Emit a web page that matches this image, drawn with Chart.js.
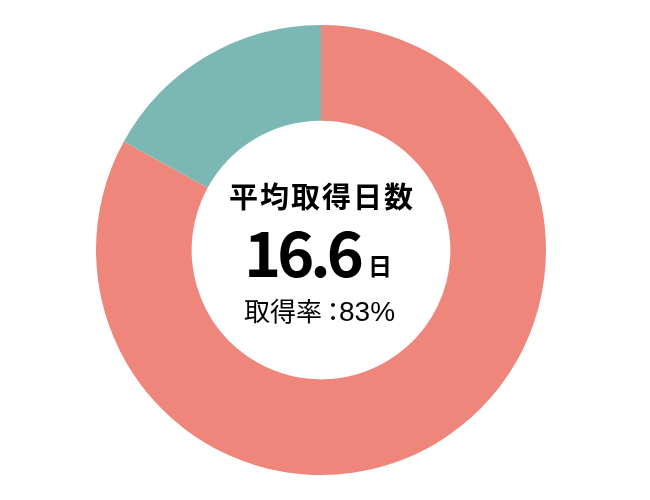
<!DOCTYPE html>
<html>
<head>
<meta charset="utf-8">
<script src="https://cdn.jsdelivr.net/npm/chart.js@4/dist/chart.umd.min.js"></script>
<style>
html,body{margin:0;padding:0;background:#fff;}
#wrap{width:650px;height:500px;}
</style>
</head>
<body>
<div id="wrap"><canvas id="c" width="650" height="500"></canvas></div>
<script>
const categories = ["取得", "未取得"];
const values = [83, 17];
const colors = ["#EE867B", "#7BB8B3"];
const titleText = "平均取得日数";
const daysValue = "16.6";
const daysUnit = "日";
const rateLabel = "取得率";
const rateSep = "：";
const rateValue = "83%";

const centerText = {
  id: 'centerText',
  afterDraw(chart) {
    const ctx = chart.ctx;
    const meta = chart.getDatasetMeta(0).data[0];
    const cx = meta.x, cy = meta.y;
    ctx.save();
    ctx.fillStyle = '#000';
    ctx.textBaseline = 'alphabetic';
    const fam = '"Noto Sans CJK JP", "Noto Sans", sans-serif';
    // title
    ctx.textAlign = 'center';
    ctx.font = 'bold 29px ' + fam;
    ctx.letterSpacing = '2px';
    ctx.fillText(titleText, cx + 1, cy - 42);
    // big number
    ctx.textAlign = 'left';
    ctx.font = 'bold 63px ' + fam;
    ctx.letterSpacing = '-4px';
    ctx.fillText(daysValue, cx - 77, cy + 27);
    ctx.letterSpacing = '0px';
    ctx.font = 'bold 24px ' + fam;
    ctx.fillText(daysUnit, cx + 47, cy + 25);
    // rate
    ctx.font = '26px ' + fam;
    ctx.fillText(rateLabel, cx - 77, cy + 71);
    ctx.fillText(rateSep, cx - 1, cy + 71);
    ctx.font = '28px "Liberation Sans", ' + fam;
    ctx.fillText(rateValue, cx + 18, cy + 71);
    ctx.restore();
  }
};

new Chart(document.getElementById('c'), {
  type: 'doughnut',
  data: {
    labels: categories,
    datasets: [{
      data: values,
      backgroundColor: colors,
      borderWidth: 0,
      hoverOffset: 0
    }]
  },
  options: {
    responsive: false,
    animation: false,
    cutout: '57.5%',
    rotation: 0,
    layout: { padding: { top: 25, bottom: 25, left: 21, right: 29 } },
    plugins: {
      legend: { display: false },
      tooltip: { enabled: false }
    }
  },
  plugins: [centerText]
});
</script>
</body>
</html>
